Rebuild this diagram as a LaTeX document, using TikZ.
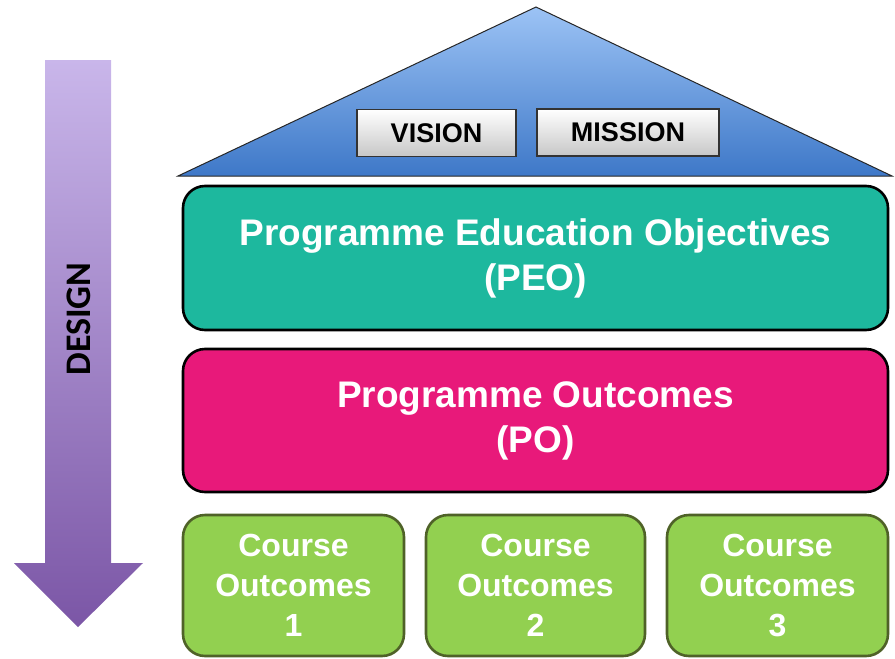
\documentclass[tikz,border=0pt]{standalone}
\usepackage{fontspec}
\setmainfont{Liberation Sans}
\newfontfamily\calib{Carlito}
\definecolor{peoC}{HTML}{1DB89E}
\definecolor{poC}{HTML}{E8197A}
\definecolor{coC}{HTML}{92D050}
\definecolor{coB}{HTML}{4F6228}
\definecolor{roofTop}{HTML}{9CC3F5}
\definecolor{roofBot}{HTML}{3E78C8}
\definecolor{arrTop}{HTML}{C9B6EA}
\definecolor{arrBot}{HTML}{7B56A6}
\tikzset{
  bigbox/.style={draw=black, line width=2.6pt, rounded corners=22pt, align=center,
    text=white, font=\bfseries\fontsize{37}{45}\selectfont, inner sep=0pt},
  cobox/.style={draw=coB, line width=2.6pt, fill=coC, rounded corners=22pt, align=center,
    text=white, font=\bfseries\fontsize{32}{40}\selectfont, inner sep=0pt,
    minimum width=219pt, minimum height=141pt},
  tagbox/.style={draw=black!80, line width=1.3pt, top color=white, bottom color=black!22,
    font=\bfseries\fontsize{27}{30}\selectfont, inner sep=0pt, minimum height=47pt},
}
\begin{document}
\begin{tikzpicture}[x=1pt,y=-1pt]
\useasboundingbox (0,0) rectangle (895,659);
% design arrow
\coordinate (a1) at (45,60);
\coordinate (a2) at (111,60);
\coordinate (a3) at (111,563);
\coordinate (a4) at (143,563);
\coordinate (tip) at (78,627);
\coordinate (a6) at (14,563);
\coordinate (a7) at (45,563);
\shade[top color=arrTop, bottom color=arrBot] (a1) -- (a2) -- (a3) -- (a4) -- (tip) -- (a6) -- (a7) -- cycle;
\node[rotate=90, font=\calib\bfseries\fontsize{36}{40}\selectfont] (design) at (79,319) {DESIGN};
% roof
\coordinate (apex) at (536,7);
\coordinate (rl) at (178,176);
\coordinate (rr) at (892,176);
\draw[line width=1pt, draw=black!85, top color=roofTop, bottom color=roofBot] (apex) -- (rr) -- (rl) -- cycle;
\node[tagbox, minimum width=159pt] (vision) at (436.5,133) {VISION};
\node[tagbox, minimum width=182pt] (mission) at (628,132.5) {MISSION};
% PEO and PO
\node[bigbox, fill=peoC, minimum width=705pt, minimum height=144pt] (peo) at (535.5,258)
  {Programme Education Objectives\\(PEO)};
\node[bigbox, fill=poC, minimum width=705pt, minimum height=143pt] (po) at (535.5,420.5)
  {Programme Outcomes\\(PO)};
% course outcomes
\node[cobox, minimum width=221pt] (co1) at (293.5,585.5) {Course\\Outcomes\\1};
\node[cobox] (co2) at (535.5,585.5) {Course\\Outcomes\\2};
\node[cobox, minimum width=221pt] (co3) at (777.5,585.5) {Course\\Outcomes\\3};
\end{tikzpicture}
\end{document}
